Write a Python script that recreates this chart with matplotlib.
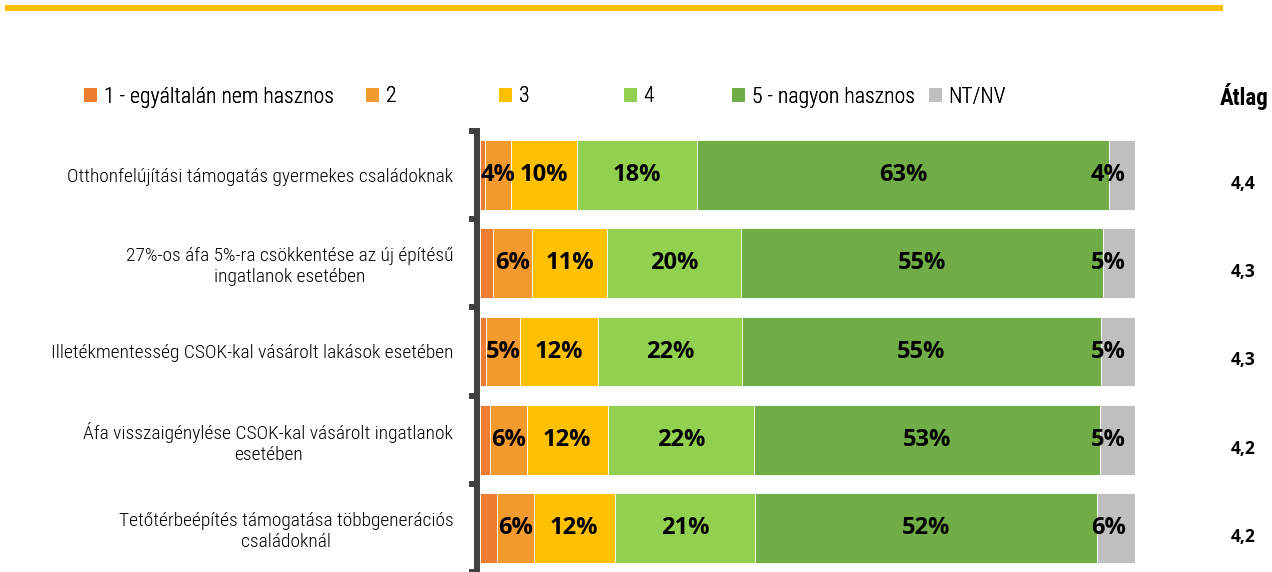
import matplotlib.pyplot as plt
from matplotlib.lines import Line2D
from matplotlib.patches import Patch
from matplotlib.transforms import blended_transform_factory
import numpy as np

# data
categories = [
    "Otthonfelújítási támogatás gyermekes családoknak",
    "27%-os áfa 5%-ra csökkentése az új építésű\ningatlanok esetében",
    "Illetékmentesség CSOK-kal vásárolt lakások esetében",
    "Áfa visszaigénylése CSOK-kal vásárolt ingatlanok\nesetében",
    "Tetőtérbeépítés támogatása többgenerációs\ncsaládoknál",
]
series_names = ["1 - egyáltalán nem hasznos", "2", "3", "4", "5 - nagyon hasznos", "NT/NV"]
v1 = [0.8, 2.0, 0.9, 1.5, 2.6]
v2 = [4.0, 6.0, 5.2, 5.6, 5.6]
v3 = [10.0, 11.4, 11.9, 12.4, 12.4]
v4 = [18.4, 20.4, 22.0, 22.4, 21.4]
v5 = [62.8, 55.3, 54.8, 52.8, 52.2]
vnt = [4.0, 4.9, 5.2, 5.3, 5.8]
atlag = [4.4, 4.3, 4.3, 4.2, 4.2]

colors = ["#ED7D31", "#F29A2E", "#FFC000", "#92D050", "#70AD47", "#BFBFBF"]
narrow = ["Liberation Sans Narrow", "Roboto Condensed", "Liberation Sans", "DejaVu Sans"]
bold_font = ["Open Sans", "DejaVu Sans"]

fig = plt.figure(figsize=(12.72, 5.72), dpi=100)
ax = fig.add_axes([480 / 1272, 0, 655 / 1272, 1 - 131 / 572])

values = [v1, v2, v3, v4, v5, vnt]
y = np.arange(len(categories))
left = np.zeros(len(categories))
for i, vals in enumerate(values):
    vals = np.array(vals, dtype=float)
    ax.barh(y, vals, left=left, height=0.79, color=colors[i],
            edgecolor="white", linewidth=0.6)
    if i >= 1:
        for j in range(len(y)):
            if i == 5:
                ax.text(100 - 1.4, y[j], f"{vals[j]:.0f}%", ha="right", va="center",
                        fontsize=17, fontweight="bold", family=bold_font)
            else:
                ax.text(left[j] + vals[j] / 2, y[j], f"{vals[j]:.0f}%", ha="center",
                        va="center", fontsize=17, fontweight="bold", family=bold_font)
    left += vals

ax.set_xlim(0, 100)
ax.set_ylim(len(categories) - 0.5, -0.5)
ax.set_xticks([])
for s in ["top", "right", "bottom"]:
    ax.spines[s].set_visible(False)
ax.spines["left"].set_position(("outward", 2.2))
ax.spines["left"].set_color("#404040")
ax.spines["left"].set_linewidth(4.3)
ax.set_yticks(y)
ax.set_yticklabels(categories, fontsize=14, family=narrow, fontweight="light",
                   multialignment="center")
ax.tick_params(axis="y", which="major", length=0, pad=17)
ax.set_yticks(np.arange(len(categories) + 1) - 0.5, minor=True)
ax.tick_params(axis="y", which="minor", length=6, width=4.3, color="#404040")

# Átlag column
tr = blended_transform_factory(fig.transFigure, ax.transData)
for j, a in enumerate(atlag):
    ax.text(0.977, y[j] + 0.1, f"{a:.1f}".replace(".", ","), transform=tr,
            ha="center", va="center", fontsize=12.5, fontweight="bold", family=bold_font)
fig.text(0.978, 1 - 97 / 572, "Átlag", ha="center", va="center", fontsize=16.5,
         fontweight="bold", family=narrow)

# legend, one entry at a time
leg_x = [84, 366, 499, 624, 732, 929]
for i, name in enumerate(series_names):
    h = Patch(facecolor=colors[i], edgecolor="none")
    lg = fig.legend(handles=[h], labels=[name], loc="center left",
                    bbox_to_anchor=(leg_x[i] / 1272, 1 - 97 / 572), frameon=False,
                    prop={"family": narrow, "size": 15.7, "weight": "light"},
                    handlelength=0.6, handleheight=0.6, handletextpad=0.3,
                    borderpad=0, borderaxespad=0)
    fig.add_artist(lg)

# yellow top rule
fig.add_artist(Line2D([5 / 1272, 1223 / 1272], [1 - 8 / 572, 1 - 8 / 572],
                      color="#FFC000", linewidth=4.5, solid_capstyle="butt",
                      transform=fig.transFigure))

fig.savefig("out.png", dpi=100)
